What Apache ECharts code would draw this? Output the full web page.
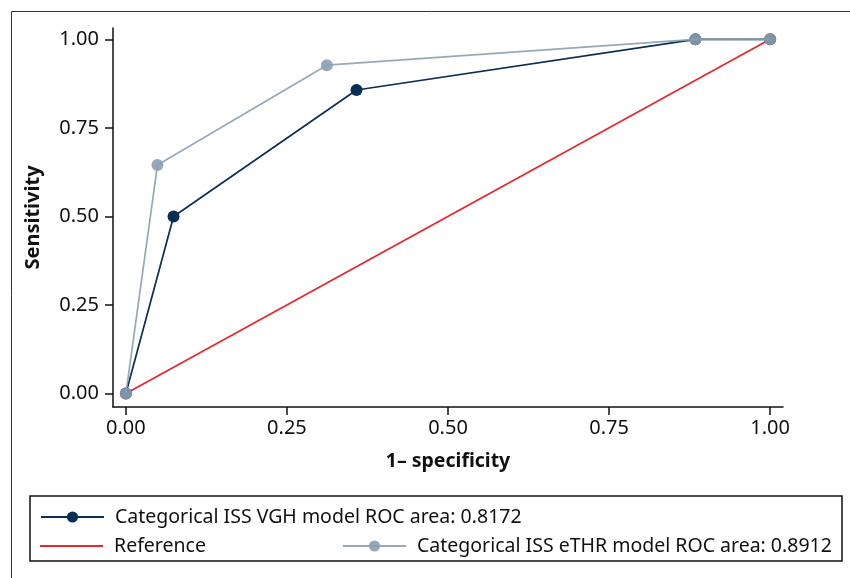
<!DOCTYPE html>
<html>
<head>
<meta charset="utf-8">
<script src="https://cdn.jsdelivr.net/npm/echarts@6/dist/echarts.min.js"></script>
<style>
html,body{margin:0;padding:0;background:#fff;}
#c{width:850px;height:578px;}
</style>
</head>
<body>
<div id="c"></div>
<script>
// Data
var tickValues = [0, 0.25, 0.5, 0.75, 1];
var vghX = [0, 0.074, 0.358, 0.884, 1];
var vghY = [0, 0.50, 0.857, 1.0, 1.0];
var ethrX = [0, 0.049, 0.312, 0.884, 1];
var ethrY = [0, 0.645, 0.927, 1.0, 1.0];
var refX = [0, 1];
var refY = [0, 1];
var nameVGH = 'Categorical ISS VGH model ROC area: 0.8172';
var nameRef = 'Reference';
var nameETHR = 'Categorical ISS eTHR model ROC area: 0.8912';

function pairs(xs, ys) { return xs.map(function (x, i) { return [x, ys[i]]; }); }

var FONT = 'Noto Sans';
var navy = '#0b2e55';
var gray = '#8c9eb0';
var red = '#e8262c';

var chart = echarts.init(document.getElementById('c'));
var legendText = { fontFamily: FONT, fontSize: 19.5, color: '#111', padding: [0, 0, 0, 6] };
chart.setOption({
  animation: false,
  backgroundColor: '#fff',
  grid: { left: 113, right: 67, top: 28, bottom: 171 },
  xAxis: {
    type: 'value', min: -0.02, max: 1.02,
    name: '1\u2013 specificity', nameLocation: 'middle', nameGap: 44,
    nameTextStyle: { fontFamily: FONT, fontSize: 19.5, fontWeight: 'bold', color: '#111' },
    axisLine: { onZero: false, lineStyle: { color: '#111', width: 1.5 } },
    axisTick: { customValues: tickValues, length: 8, lineStyle: { color: '#111', width: 1.5 } },
    axisLabel: { customValues: tickValues, margin: 11, fontFamily: FONT, fontSize: 20, color: '#111',
      formatter: function (v) { return v.toFixed(2); } },
    splitLine: { show: false }
  },
  yAxis: {
    type: 'value', min: -0.038, max: 1.032,
    name: 'Sensitivity', nameLocation: 'middle', nameGap: 70, nameRotate: 90,
    nameTextStyle: { fontFamily: FONT, fontSize: 20, fontWeight: 'bold', color: '#111' },
    axisLine: { onZero: false, lineStyle: { color: '#111', width: 1.5 } },
    axisTick: { customValues: tickValues, length: 8, lineStyle: { color: '#111', width: 1.5 } },
    axisLabel: { customValues: tickValues, margin: 14, fontFamily: FONT, fontSize: 20, color: '#111',
      formatter: function (v) { return v.toFixed(2); } },
    splitLine: { show: false }
  },
  legend: [
    { data: [nameVGH], left: 40, top: 507, padding: 0, itemWidth: 63, itemHeight: 14, textStyle: legendText },
    { data: [{ name: nameRef, icon: 'rect' }], left: 40, top: 536, padding: 0, itemWidth: 63, itemHeight: 2, textStyle: legendText },
    { data: [nameETHR], left: 342, top: 536, padding: 0, itemWidth: 63, itemHeight: 14, textStyle: legendText }
  ],
  graphic: [
    { type: 'rect', shape: { x: 11.5, y: 11.5, width: 900, height: 900 }, style: { fill: 'none', stroke: '#333', lineWidth: 1 }, silent: true },
    { type: 'rect', shape: { x: 30, y: 496, width: 812, height: 65 }, style: { fill: 'none', stroke: '#111', lineWidth: 1.5 }, silent: true }
  ],
  series: [
    { name: nameRef, type: 'line', data: pairs(refX, refY), symbol: 'none',
      lineStyle: { color: red, width: 1.7 }, itemStyle: { color: red }, z: 1 },
    { name: nameVGH, type: 'line', data: pairs(vghX, vghY), symbol: 'circle', symbolSize: 12,
      lineStyle: { color: navy, width: 1.7 }, itemStyle: { color: navy }, z: 2 },
    { name: nameETHR, type: 'line', data: pairs(ethrX, ethrY), symbol: 'circle', symbolSize: 12,
      lineStyle: { color: gray, width: 1.7, opacity: 0.9 }, itemStyle: { color: gray, opacity: 0.9 }, z: 3 }
  ]
});
</script>
</body>
</html>
